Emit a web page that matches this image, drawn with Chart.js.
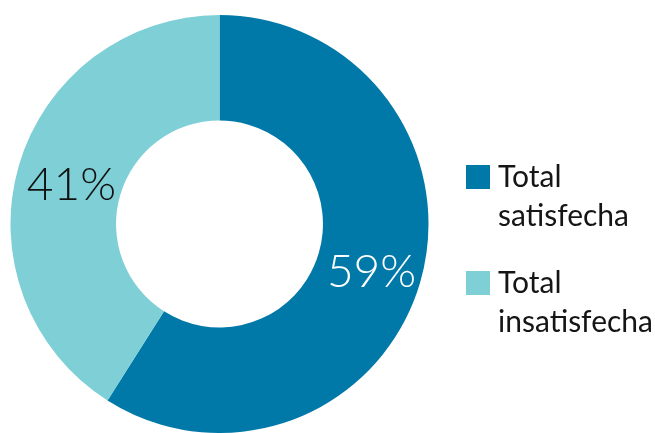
<!DOCTYPE html>
<html>
    <head>
        <title>Satisfacción</title>
        <script src="https://cdn.jsdelivr.net/npm/chart.js@4/dist/chart.umd.min.js"></script>
        <style>
            html, body { margin: 0; padding: 0; background: #fff; }
            #wrap { position: relative; width: 655px; height: 433px; }
        </style>
    </head>
    <body>
        <div id="wrap"><canvas id="donut" width="655" height="433"></canvas></div>

        <script>
            // data
            const categories = [['Total', 'satisfecha'], ['Total', 'insatisfecha']]
            const values = [59, 41]
            const colors = ['#0079a8', '#7ecfd6']
            const labelColors = ['#ffffff', '#111111']

            const FONT = 'Lato, "Open Sans", sans-serif'

            // percent text in the middle of each ring segment
            const sliceLabels = {
                id: 'sliceLabels',
                afterDatasetsDraw(chart) {
                    const ctx = chart.ctx
                    const meta = chart.getDatasetMeta(0)
                    ctx.save()
                    ctx.font = '300 46px ' + FONT
                    ctx.textAlign = 'center'
                    ctx.textBaseline = 'middle'
                    meta.data.forEach((arc, i) => {
                        const p = arc.tooltipPosition()
                        ctx.fillStyle = labelColors[i]
                        ctx.fillText(values[i] + '%', p.x + 2, p.y + 5)
                    })
                    ctx.restore()
                },
            }

            // legend on the right, two lines per entry
            const sideLegend = {
                id: 'sideLegend',
                afterDraw(chart) {
                    const ctx = chart.ctx
                    const x0 = 466
                    const box = 24
                    const lineH = 39
                    const itemH = 106
                    ctx.save()
                    ctx.font = '30px ' + FONT
                    ctx.textAlign = 'left'
                    ctx.textBaseline = 'alphabetic'
                    categories.forEach((lines, i) => {
                        const top = 165 + i * itemH
                        ctx.fillStyle = colors[i]
                        ctx.fillRect(x0, top, box, box)
                        ctx.fillStyle = '#151515'
                        lines.forEach((t, j) => {
                            ctx.fillText(t, x0 + 32, top + 22 + j * lineH)
                        })
                    })
                    ctx.restore()
                },
            }

            const chart = new Chart(document.getElementById('donut'), {
                type: 'doughnut',
                data: {
                    labels: categories.map(l => l.join(' ')),
                    datasets: [
                        {
                            data: values,
                            backgroundColor: colors,
                            borderWidth: 0,
                            hoverOffset: 0,
                        },
                    ],
                },
                options: {
                    responsive: false,
                    animation: false,
                    cutout: '49.5%',
                    layout: { padding: { left: 10, top: 15, right: 226, bottom: 0 } },
                    plugins: {
                        legend: { display: false },
                        tooltip: { enabled: false },
                    },
                },
                plugins: [sliceLabels, sideLegend],
            })
        </script>
    </body>
</html>
